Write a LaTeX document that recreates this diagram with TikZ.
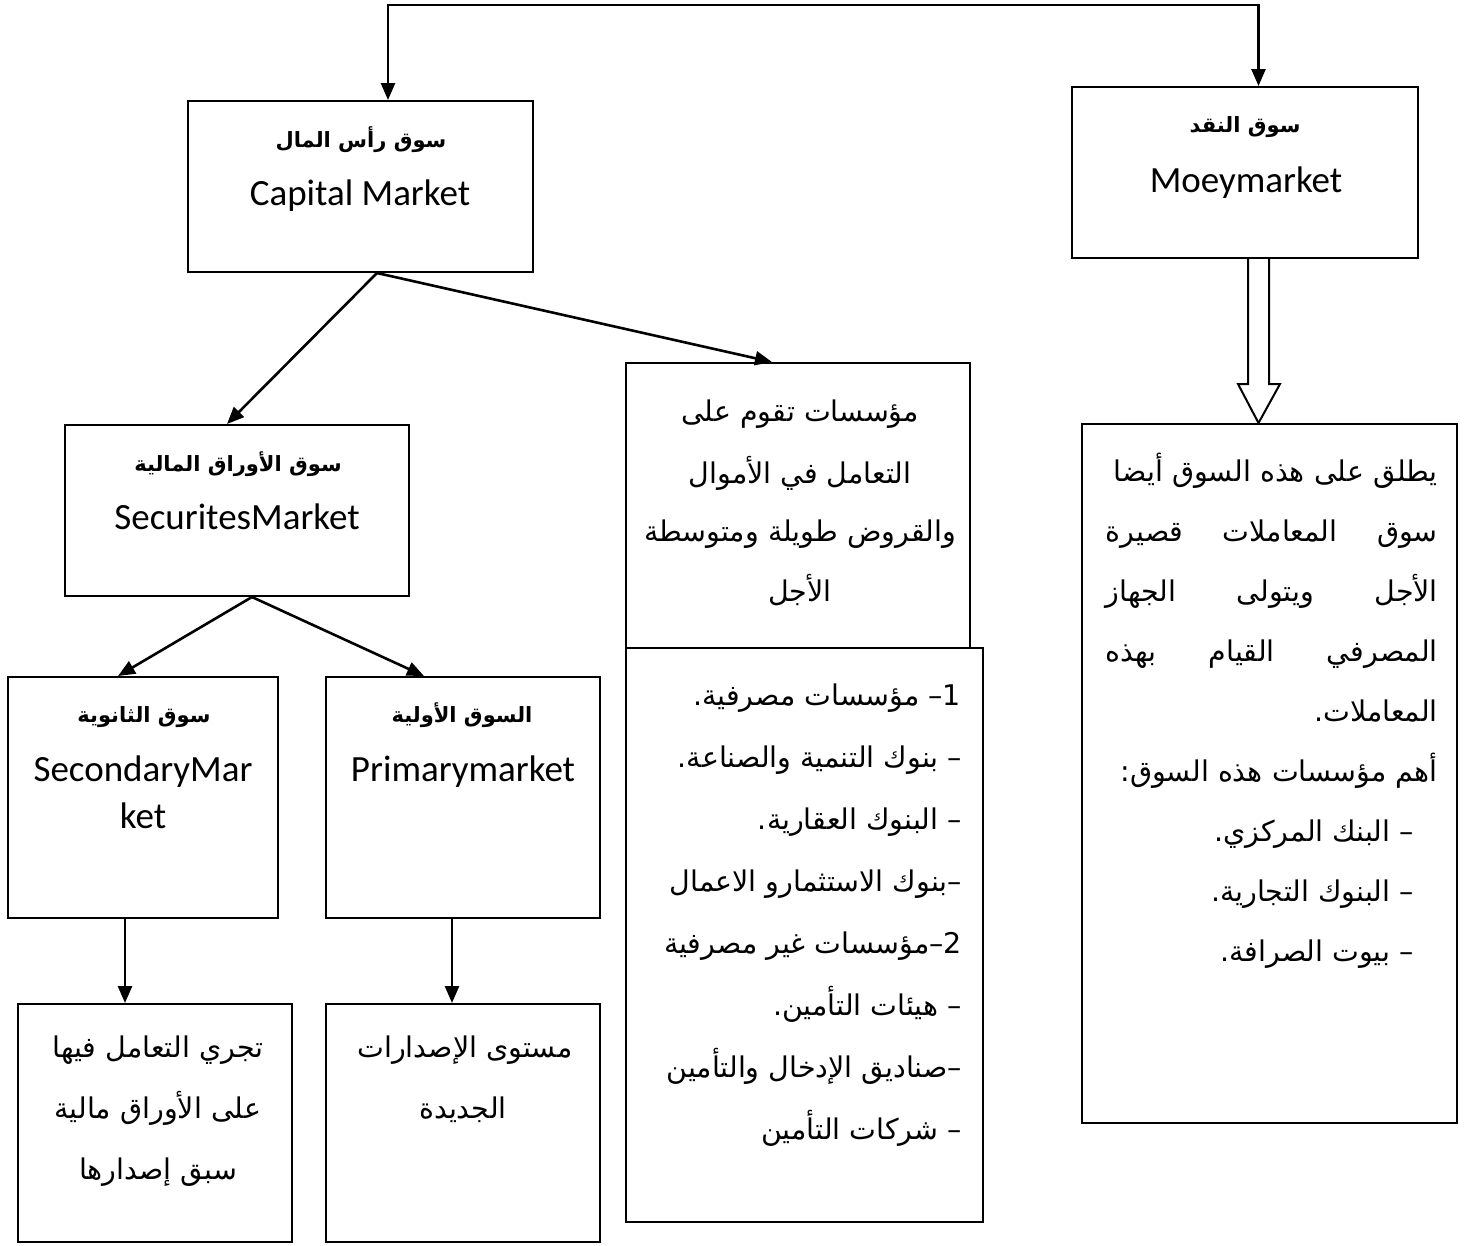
\documentclass[tikz,border=0pt]{standalone}
\usepackage{fontspec}
\usetikzlibrary{arrows.meta,calc}
\TeXXeTstate=1
\newfontfamily\arabicfont[Script=Arabic]{DejaVu Sans}
\newfontfamily\enfont{Carlito}
\newcommand\KK{\kern0pt\relax}
\newcommand\RL[1]{\beginR #1\endR}
\begin{document}
\begin{tikzpicture}[x=1pt,y=-1pt,
  box/.style={draw, line width=2pt, inner sep=0pt},
  conn/.style={line width=2.6pt},
  arr/.style={conn, -{Triangle[length=17pt,width=14pt]}},
  ar/.style={inner sep=0pt, anchor=base, font=\arabicfont\fontsize{28.5}{34}\selectfont},
  arR/.style={ar, anchor=base east},
  arb/.style={inner sep=0pt, anchor=base, font=\arabicfont\bfseries\fontsize{21}{25}\selectfont},
  en/.style={inner sep=0pt, anchor=base, font=\enfont\fontsize{37}{44}\selectfont},
]
\useasboundingbox (0,0) rectangle (1467,1245);

% boxes
\node[box, minimum width=345pt, minimum height=171pt] (cap) at (360.5,186.5) {};
\node[box, minimum width=346pt, minimum height=171pt] (money) at (1245,172.5) {};
\node[box, minimum width=344pt, minimum height=171pt] (sec) at (237,510.5) {};
\node[box, minimum width=344pt, minimum height=285pt] (inst) at (798,505.5) {};
\node[box, minimum width=357pt, minimum height=574pt] (list) at (804.5,935) {};
\node[box, minimum width=375pt, minimum height=699pt] (rbox) at (1269.5,773.5) {};
\node[box, minimum width=270pt, minimum height=241pt] (secd) at (143,797.5) {};
\node[box, minimum width=274pt, minimum height=241pt] (prim) at (463,797.5) {};
\node[box, minimum width=274pt, minimum height=238pt] (bl) at (155,1123) {};
\node[box, minimum width=274pt, minimum height=238pt] (br) at (463,1123) {};

% top connector
\coordinate (tl) at (388,5);
\coordinate (tr) at (1258.5,5);
\draw[conn, {Triangle[length=17pt,width=14pt]}-{Triangle[length=17pt,width=14pt]}, line join=miter]
  (tl |- cap.north) -- (tl) -- (tr) -- (tr |- money.north);

% capital market connectors
\coordinate (capB) at ([xshift=16.5pt]cap.south);
\draw[arr] (capB) -- ([xshift=-10pt]sec.north);
\draw[arr] (capB) -- ([xshift=-26pt]inst.north);

% securities connectors
\coordinate (secB) at ([xshift=15pt]sec.south);
\draw[arr] (secB) -- ([xshift=-25pt]secd.north);
\draw[arr] (secB) -- ([xshift=-39pt]prim.north);

% down arrows
\coordinate (dl) at ([xshift=-18pt]secd.south);
\coordinate (dr) at ([xshift=-11pt]prim.south);
\draw[arr] (dl) -- (dl |- bl.north);
\draw[arr] (dr) -- (dr |- br.north);

% hollow arrow money -> rbox
\coordinate (ha) at ([xshift=13.5pt]money.south);
\draw[line width=2pt, line join=miter]
  ($(ha)+(-10.5,0)$) -- ($(ha)+(-10.5,125)$) -- ($(ha)+(-20.5,125)$) -- (ha |- rbox.north)
  -- ($(ha)+(21.5,125)$) -- ($(ha)+(10.5,125)$) -- ($(ha)+(10.5,0)$);

% texts: capital
\node[arb] (t1) at (361,147) {\RL{سوق رأس المال}};
\node[en] (t2) at (360,205) {Capital Market};
% money
\node[arb] (t3) at (1245,132) {\RL{سوق النقد}};
\node[en] (t4) at (1246,192) {Moeymarket};
% securities
\node[arb] (t5) at (238,471) {\RL{سوق الأوراق المالية}};
\node[en] (t6) at (237,529) {SecuritesMarket};
% secondary
\node[arb] (t7) at (144,722) {\RL{سوق الثانوية}};
\node[en] (t8) at (143,781) {SecondaryMar};
\node[en] (t9) at (143,828) {ket};
% primary
\node[arb] (t10) at (462,722) {\RL{السوق الأولية}};
\node[en] (t11) at (463,781) {Primarymarket};

% institution
\node[ar] (i1) at (800,421) {\RL{مؤسسات تقوم على}};
\node[ar] (i2) at (800,483) {\RL{التعامل في الأموال}};
\node[ar] (i3) at (800,541) {\RL{والقروض طويلة ومتوسطة}};
\node[ar] (i4) at (800,601) {\RL{الأجل}};

% list
\node[arR] (l1) at (961,705) {\RL{1\KK– مؤسسات مصرفية\KK.}};
\node[arR] (l2) at (962,767) {\RL{– بنوك التنمية والصناعة\KK.}};
\node[arR] (l3) at (962,829) {\RL{– البنوك العقارية\KK.}};
\node[arR] (l4) at (962,891) {\RL{–\KK بنوك الاستثمارو الاعمال}};
\node[arR] (l5) at (962,953) {\RL{2\KK–\KK مؤسسات غير مصرفية}};
\node[arR] (l6) at (962,1015) {\RL{– هيئات التأمين\KK.}};
\node[arR] (l7) at (962,1077) {\RL{–\KK صناديق الإدخال والتأمين}};
\node[arR] (l8) at (962,1139) {\RL{– شركات التأمين}};

% right box
\node[arR] (r1) at (1438,481) {\RL{يطلق على هذه السوق أيضا}};
\node[arR] (r2) at (1438,541) {\hbox to 332pt{\RL{سوق\hfill المعاملات\hfill قصيرة}}};
\node[arR] (r3) at (1438,601) {\hbox to 332pt{\RL{الأجل\hfill ويتولى\hfill الجهاز}}};
\node[arR] (r4) at (1438,661) {\hbox to 332pt{\RL{المصرفي\hfill القيام\hfill بهذه}}};
\node[arR] (r5) at (1438,721) {\RL{المعاملات\KK.}};
\node[arR] (r6) at (1438,781) {\RL{أهم مؤسسات هذه السوق\KK:}};
\node[arR] (r7) at (1414,841) {\RL{– البنك المركزي\KK.}};
\node[arR] (r8) at (1414,901) {\RL{– البنوك التجارية\KK.}};
\node[arR] (r9) at (1414,961) {\RL{– بيوت الصرافة\KK.}};

% bottom boxes
\node[ar] (b1) at (158,1057) {\RL{تجري التعامل فيها}};
\node[ar] (b2) at (158,1118) {\RL{على الأوراق مالية}};
\node[ar] (b3) at (158,1179) {\RL{سبق إصدارها}};
\node[ar] (b4) at (465,1057) {\RL{مستوى الإصدارات}};
\node[ar] (b5) at (463,1118) {\RL{الجديدة}};
\end{tikzpicture}
\end{document}
